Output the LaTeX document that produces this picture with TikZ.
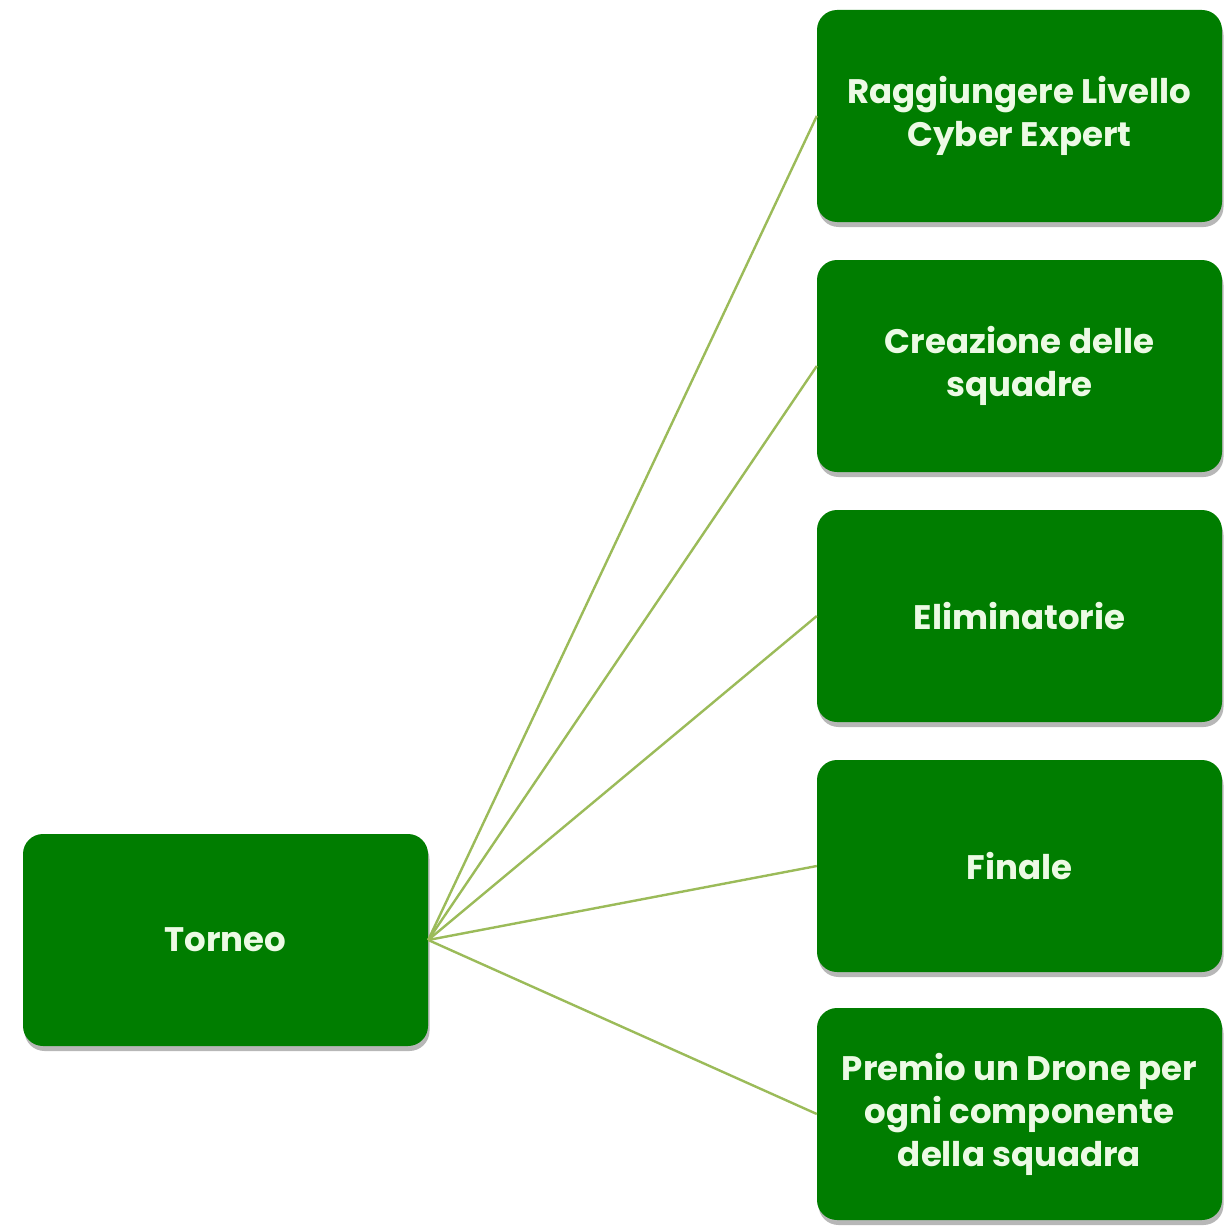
\documentclass[tikz,border=0pt]{standalone}
\usepackage{fontspec}
\setmainfont{Poppins}
\usetikzlibrary{shadows}
\definecolor{boxgreen}{HTML}{007D00}
\definecolor{txtgreen}{HTML}{ECFAE4}
\definecolor{linegreen}{HTML}{9BBB59}
\tikzset{
  gbox/.style={rectangle, rounded corners=20pt, fill=boxgreen, minimum width=405pt, minimum height=212pt,
    text=txtgreen, align=center, font=\fontsize{34}{43}\selectfont\bfseries, inner sep=0pt,
    drop shadow={shadow xshift=1.5pt, shadow yshift=-5pt, opacity=0.4, fill=black!70}},
  link/.style={draw=linegreen, line width=2.4pt}
}
\begin{document}
\begin{tikzpicture}[x=1pt,y=-1pt]
\useasboundingbox (0,0) rectangle (1230,1225);
\node[gbox] (t) at (225.5,940) {Torneo};
\node[gbox] (a) at (1019.5,116) {Raggiungere Livello\\Cyber Expert};
\node[gbox] (b) at (1019.5,366) {Creazione delle\\squadre};
\node[gbox] (c) at (1019.5,616) {Eliminatorie};
\node[gbox] (d) at (1019.5,866) {Finale};
\node[gbox] (e) at (1019.5,1114) {Premio un Drone per\\ogni componente\\della squadra};
\foreach \n in {a,b,c,d,e} \draw[link] (t.east) -- (\n.west);
\end{tikzpicture}
\end{document}
